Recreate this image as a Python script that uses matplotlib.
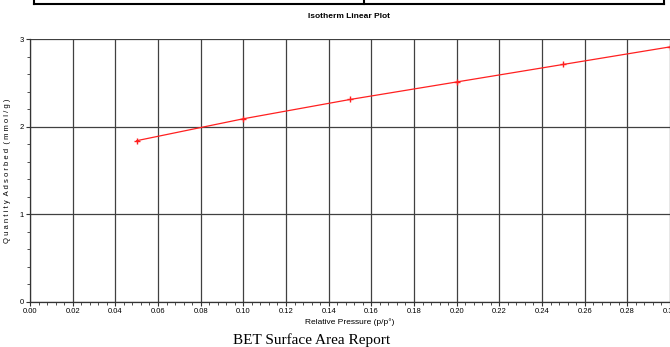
import matplotlib
matplotlib.use("Agg")
import matplotlib.pyplot as plt
from matplotlib.ticker import MultipleLocator
from matplotlib.lines import Line2D

# isotherm points
pressure = [0.05, 0.10, 0.15, 0.20, 0.25, 0.30]
quantity = [1.84, 2.09, 2.31, 2.51, 2.71, 2.91]

plt.rcParams['font.family'] = ['Liberation Sans Narrow', 'Liberation Sans', 'DejaVu Sans']

fig = plt.figure(figsize=(6.7, 3.47), dpi=100)
ax = fig.add_axes([30 / 670, 45 / 347, 640 / 670, 263 / 347])

ax.plot(pressure, quantity, color='#ff2020', lw=0.9, marker='+', ms=5, mew=1.0,
        clip_on=False, zorder=3)

ax.set_xlim(0, 0.30)
ax.set_ylim(0, 3)
ax.xaxis.set_major_locator(MultipleLocator(0.02))
ax.xaxis.set_minor_locator(MultipleLocator(0.004))
ax.yaxis.set_major_locator(MultipleLocator(1))
ax.yaxis.set_minor_locator(MultipleLocator(0.2))
ax.xaxis.set_major_formatter(lambda v, p: f"{v:.2f}")
ax.yaxis.set_major_formatter(lambda v, p: f"{v:.0f}")
ax.grid(True, which='major', color='#404040', lw=0.9)
ax.tick_params(which='both', direction='out', color='#333333', labelsize=5.5, pad=1.5)
ax.tick_params(which='major', length=3)
ax.tick_params(which='minor', length=2.5)
for s in ['top', 'right']:
    ax.spines[s].set_visible(False)
for s in ['left', 'bottom']:
    ax.spines[s].set_color('#333333')
    ax.spines[s].set_linewidth(0.9)

ax.set_xlabel('Relative Pressure (p/p°)', fontsize=6, labelpad=2)
ax.set_ylabel('Q u a n t i t y  A d s o r b e d  ( m m o l / g )', fontsize=5.5, labelpad=6)
fig.text(349 / 670, 1 - 17 / 347, 'Isotherm Linear Plot', ha='center', va='center',
         fontsize=6, fontweight='bold')
fig.text(312 / 670, 1 - 340 / 347, 'BET Surface Area Report', ha='center', va='center',
         fontsize=11, family='Liberation Serif')

# leftover table border from the page above
H = 347.0
fig.add_artist(Line2D([34 / 670, 664 / 670], [1 - 4 / H, 1 - 4 / H], color='black', lw=1.5))
for xp in [34, 364, 664]:
    fig.add_artist(Line2D([xp / 670, xp / 670], [1 - 4 / H, 1.0], color='black', lw=1.5))

fig.savefig('out.png', dpi=100)
